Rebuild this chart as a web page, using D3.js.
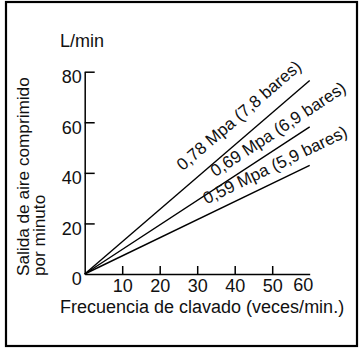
<!DOCTYPE html>
<html><head><meta charset="utf-8">
<script src="https://cdn.jsdelivr.net/npm/d3@7"></script>
<style>
html,body{margin:0;padding:0;background:#fff;}
svg text{font-family:"Liberation Sans",Arial,Helvetica,sans-serif;fill:#111;}
</style></head>
<body><svg id="c" width="360" height="348"></svg>
<script>
// ---- data ----
const xTicks = [10, 20, 30, 40, 50, 60];
const yTicks = [0, 20, 40, 60, 80];
const seriesNames = ["0,78 Mpa (7,8 bares)", "0,69 Mpa (6,9 bares)", "0,59 Mpa (5,9 bares)"];
const freq = [0, 60];
const air78 = [0, 76.5];
const air69 = [0, 58.2];
const air59 = [0, 43];
const yUnit = "L/min";
const yTitle = ["Salida de aire comprimido", "por minuto"];
const xTitle = "Frecuencia de clavado (veces/min.)";

// label placement (along-line x value, perpendicular offset)
const labelAt = [28.6, 36.2, 33.6];
const labelOff = [14, 9.5, 9.5];

const svg = d3.select("#c");
svg.append("rect").attr("x", 6).attr("y", 2).attr("width", 351).attr("height", 344)
  .attr("fill", "none").attr("stroke", "#000").attr("stroke-width", 2.2);

const x = d3.scaleLinear().domain([0, 60]).range([84.7, 309.7]);
const y = d3.scaleLinear().domain([0, 80]).range([274, 71.7]);

// y axis
const gy = svg.append("g").attr("transform", `translate(${x(0)},0)`)
  .call(d3.axisLeft(y).tickValues(yTicks).tickSize(-10).tickSizeOuter(0).tickPadding(3).tickFormat(d3.format("d")));
gy.select(".domain").attr("stroke", "#000").attr("stroke-width", 1.5);
gy.selectAll(".tick line").attr("stroke", "#000").attr("stroke-width", 1.5);
gy.selectAll(".tick").filter(d => d === 0).select("line").remove();
gy.selectAll(".tick text").attr("font-size", 18).attr("dy", "0.6em").style("fill", "#111");

// x axis
const gx = svg.append("g").attr("transform", `translate(0,${y(0)})`)
  .call(d3.axisBottom(x).tickValues(xTicks).tickSize(-8).tickSizeOuter(0).tickPadding(5).tickFormat(d3.format("d")));
gx.select(".domain").attr("stroke", "#000").attr("stroke-width", 1.5);
gx.selectAll(".tick line").attr("stroke", "#000").attr("stroke-width", 1.5);
gx.selectAll(".tick text").attr("font-size", 18).style("fill", "#111");
const t60 = gx.selectAll(".tick").filter(d => d === 60);
t60.select("line").remove();
t60.select("text").attr("x", -7).attr("y", 4);

// lines
const seriesVals = [air78, air69, air59];
const line = d3.line().x((d, i) => x(freq[i])).y(d => y(d));
seriesVals.forEach((vals, k) => {
  svg.append("path").attr("d", line(vals)).attr("fill", "none")
    .attr("stroke", "#000").attr("stroke-width", 1.4);
  const slope = (vals[1] - vals[0]) / (freq[1] - freq[0]);
  const px = x(labelAt[k]), py = y(labelAt[k] * slope);
  const ang = Math.atan2(y(freq[1] * slope) - y(0), x(freq[1]) - x(0)) * 180 / Math.PI;
  svg.append("text").attr("transform", `translate(${px},${py}) rotate(${ang})`)
    .attr("y", -labelOff[k]).attr("font-size", 17).text(seriesNames[k]);
});

// titles
svg.append("text").attr("x", 60).attr("y", 46.5).attr("font-size", 18).text(yUnit);
svg.append("text").attr("x", 60).attr("y", 313).attr("font-size", 18).text(xTitle);
yTitle.forEach((t, i) => {
  svg.append("text").attr("transform", `translate(${29 + i * 16},276) rotate(-90)`)
    .attr("font-size", 17.2).text(t);
});
</script></body></html>
